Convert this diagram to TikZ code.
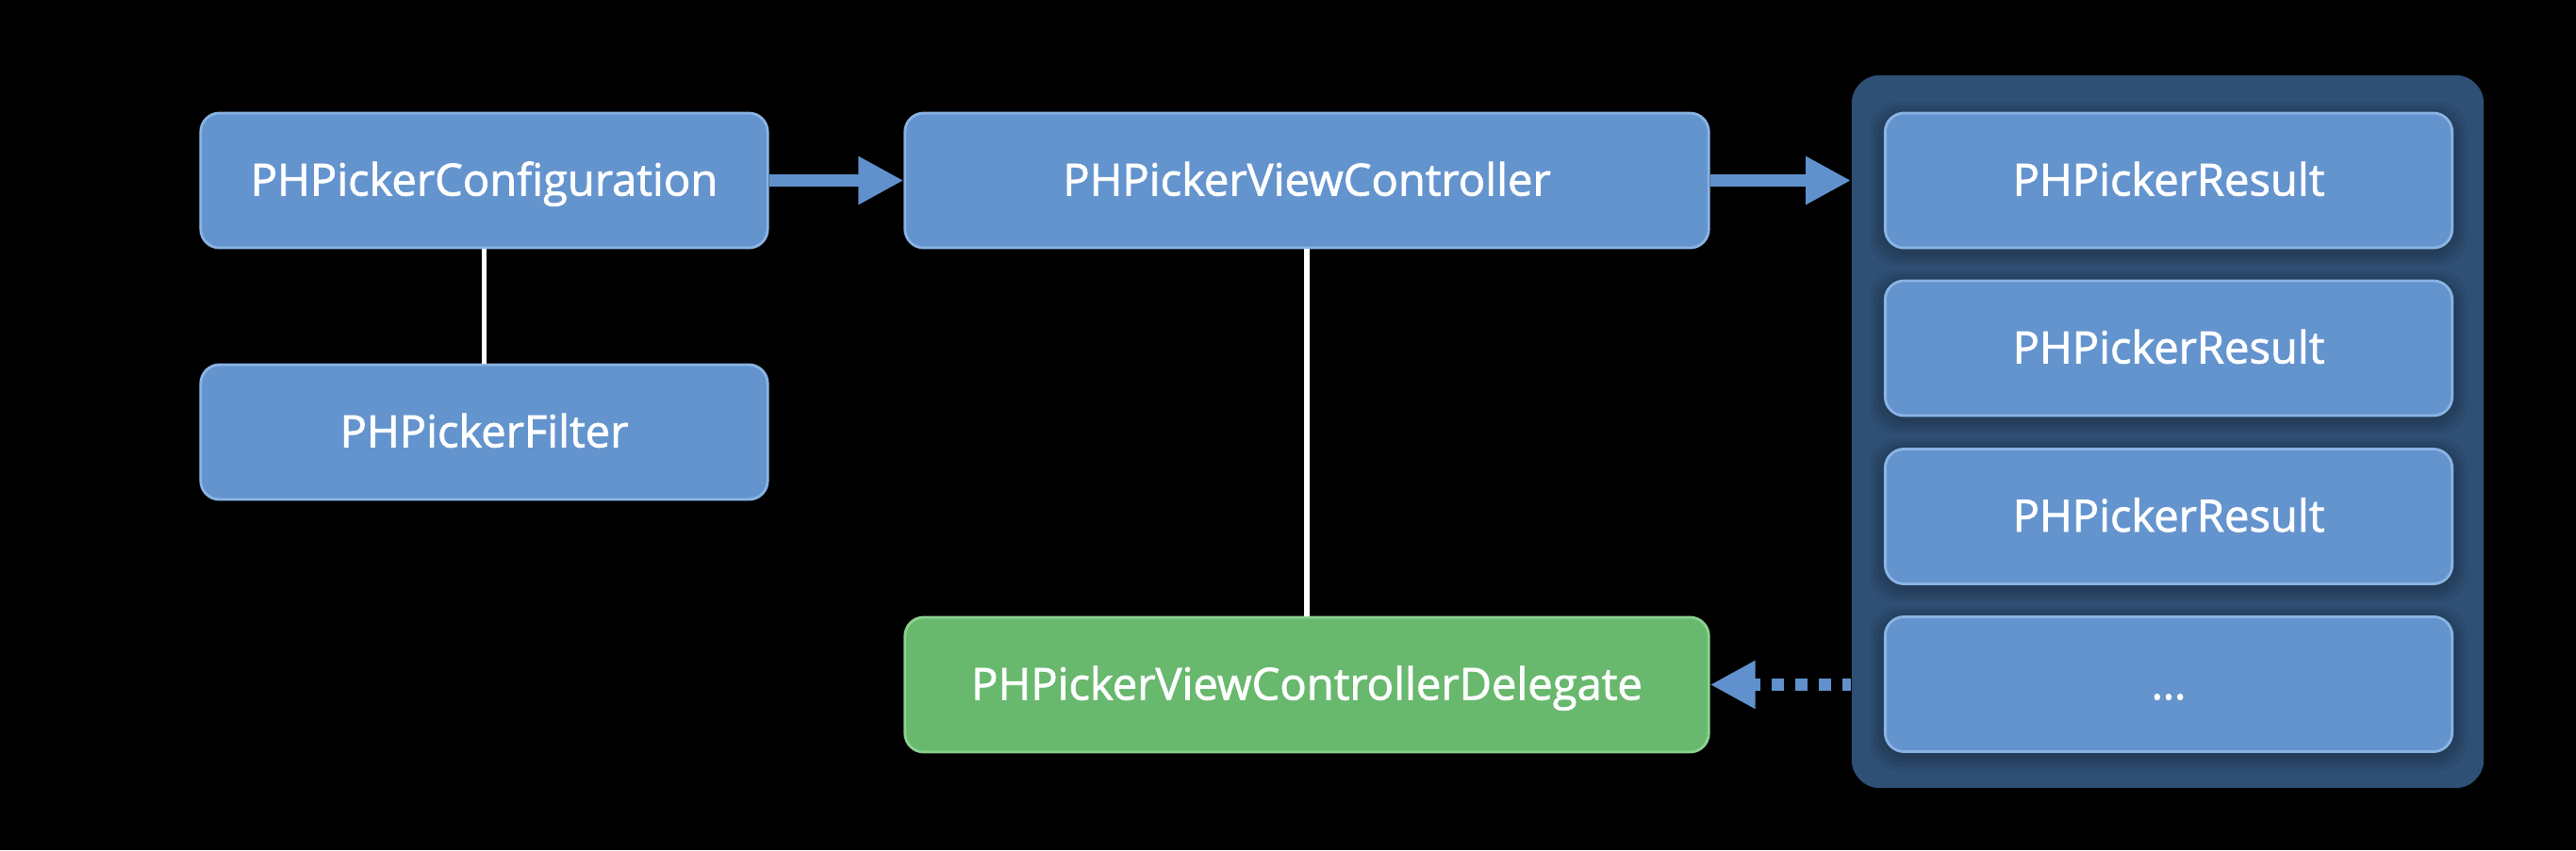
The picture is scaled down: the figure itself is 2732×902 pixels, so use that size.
\documentclass[tikz,border=0pt]{standalone}
\usepackage{fontspec}
\setmainfont{Open Sans}
\newfontfamily\lblfont{Open Sans}[FakeBold=1.6]
\usetikzlibrary{arrows.meta}
\definecolor{boxblue}{RGB}{100,148,206}
\definecolor{boxblueline}{RGB}{138,180,228}
\definecolor{boxgreen}{RGB}{104,184,110}
\definecolor{boxgreenline}{RGB}{140,210,144}
\definecolor{contfill}{RGB}{47,80,117}
\definecolor{arrowblue}{RGB}{96,145,205}
\begin{document}
\begin{tikzpicture}[x=0.01cm,y=-0.01cm,
  box/.style={rectangle, rounded corners=0.2cm, draw=boxblueline, fill=boxblue, line width=0.8pt,
    minimum height=1.43cm, inner sep=0pt, text=white, text height=0.32cm, text depth=0pt,
    font=\lblfont\fontsize{13.4}{15}\selectfont},
  narrowbox/.style={box, minimum width=6.01cm},
  widebox/.style={box, minimum width=8.52cm},
  greenbox/.style={widebox, draw=boxgreenline, fill=boxgreen},
  container/.style={rectangle, rounded corners=0.3cm, fill=contfill, inner sep=0pt,
    minimum width=6.70cm, minimum height=7.56cm},
  conn/.style={draw=arrowblue, line width=3.7pt, -{Triangle[length=0.48cm,width=0.48cm]}},
  dotconn/.style={conn, dash pattern=on 0.13cm off 0.12cm, dash phase=0.04cm},
  tie/.style={draw=white, line width=1.7pt},
  shade/.style={fill=black, opacity=0.06, rounded corners=0.3cm}
]
\fill[black] (0,0) rectangle (2732,902);
\node[container] (cont) at (2299,458) {};
\foreach \yy in {191.5,369.5,548,726}{
  \foreach \s in {4,8,12,16}{
    \fill[shade] (2300-301-\s,\yy-71.5-\s+4) rectangle (2300+301+\s,\yy+71.5+\s+4);
  }
}
\node[narrowbox] (cfg) at (513.5,191.5) {PHPickerConfiguration};
\node[narrowbox] (flt) at (513.5,458.5) {PHPickerFilter};
\node[widebox] (vc) at (1386,191.5) {PHPickerViewController};
\node[greenbox] (del) at (1386,726.5) {PHPickerViewControllerDelegate};
\node[narrowbox] (r1) at (2300,191.5) {PHPickerResult};
\node[narrowbox] (r2) at (2300,369.5) {PHPickerResult};
\node[narrowbox] (r3) at (2300,548) {PHPickerResult};
\node[narrowbox] (r4) at (2300,726) {…};
\draw[tie] (cfg.south) -- (flt.north);
\draw[tie] (vc.south) -- (del.north);
\draw[conn] (cfg.east) -- (vc.west);
\draw[conn] (vc.east) -- (cont.west |- vc.east);
\draw[dotconn] (cont.west |- del.east) -- (del.east);
\end{tikzpicture}
\end{document}
